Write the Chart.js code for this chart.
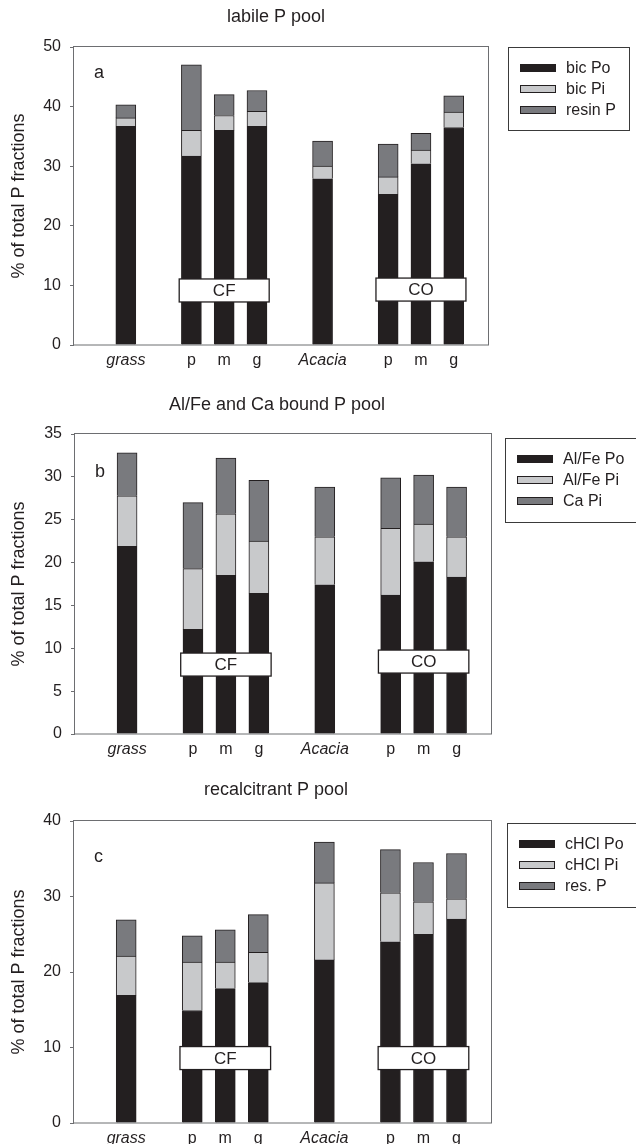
<!DOCTYPE html>
<html>
<head>
<meta charset="utf-8">
<script src="https://cdn.jsdelivr.net/npm/chart.js@4.4.0/dist/chart.umd.min.js"></script>
<style>
  body { margin: 0; background: #fff; }
  canvas { display: block; }
</style>
</head>
<body>
<canvas id="chartA" width="636" height="380"></canvas>
<canvas id="chartB" width="636" height="380"></canvas>
<canvas id="chartC" width="636" height="384"></canvas>
<script>
// bar positions on the x axis (gaps between grass / CF / Acacia / CO)
const xPos = [0, 2, 3, 4, 6, 8, 9, 10];
const xLabels = ['grass', 'p', 'm', 'g', 'Acacia', 'p', 'm', 'g'];

// a) labile P pool
const bicPo = [36.7, 31.7, 36.0, 36.7, 27.9, 25.3, 30.4, 36.5];
const bicPi = [1.4, 4.3, 2.5, 2.5, 2.1, 2.9, 2.3, 2.6];
const resinP = [2.2, 11.0, 3.5, 3.5, 4.2, 5.5, 2.8, 2.7];

// b) Al/Fe and Ca bound P pool
const alfePo = [21.9, 12.2, 18.5, 16.4, 17.4, 16.2, 20.1, 18.3];
const alfePi = [5.9, 7.1, 7.2, 6.1, 5.6, 7.8, 4.4, 4.7];
const caPi = [5.0, 7.7, 6.5, 7.1, 5.8, 5.9, 5.7, 5.8];

// c) recalcitrant P pool
const chclPo = [16.9, 14.9, 17.8, 18.6, 21.6, 24.0, 25.0, 27.0];
const chclPi = [5.2, 6.4, 3.5, 4.0, 10.2, 6.5, 4.3, 2.7];
const resP = [4.8, 3.5, 4.3, 5.0, 5.4, 5.7, 5.2, 6.0];

const colors = ['#231f20', '#c8c9cb', '#797a7e'];
const ink = '#231f20';
const fontFam = "'Liberation Sans', Arial, sans-serif";
Chart.defaults.font.family = fontFam;
Chart.defaults.color = ink;

// title, frame, panel letter, CF/CO boxes and legend box
const decor = {
  id: 'decor',
  afterDatasetsDraw(chart, args, o) {
    const ctx = chart.ctx, xs = chart.scales.x, ys = chart.scales.y;
    ctx.save();
    o.groups.forEach(g => {
      const l = xs.getPixelForValue(g.x - 1.372), r = xs.getPixelForValue(g.x + 1.372);
      const cy = ys.getPixelForValue(g.y);
      ctx.fillStyle = '#fff';
      ctx.fillRect(l, cy - 11.5, r - l, 23);
      ctx.strokeStyle = ink;
      ctx.lineWidth = 1.3;
      ctx.strokeRect(l, cy - 11.5, r - l, 23);
      ctx.fillStyle = ink;
      ctx.font = '17px ' + fontFam;
      ctx.textAlign = 'center';
      ctx.textBaseline = 'middle';
      ctx.fillText(g.text, (l + r) / 2, cy + 1);
    });
    ctx.restore();
  },
  afterDraw(chart, args, o) {
    const ctx = chart.ctx, a = chart.chartArea;
    ctx.save();
    ctx.strokeStyle = '#6d6e71';
    ctx.lineWidth = 1;
    ctx.strokeRect(a.left - 0.5, a.top - 0.5, a.right - a.left, a.bottom - a.top + 0.5);

    ctx.fillStyle = ink;
    ctx.textBaseline = 'alphabetic';
    ctx.textAlign = 'center';
    ctx.font = '18px ' + fontFam;
    ctx.fillText(o.title, a.left + 202, o.titleY);
    ctx.textAlign = 'left';
    ctx.fillText(o.letter, a.left + 20, o.letterY);

    // legend
    const L = o.legend;
    ctx.strokeStyle = '#3a3a3a';
    ctx.strokeRect(L.x + 0.5, L.y + 0.5, L.w, L.h);
    ctx.font = '16px ' + fontFam;
    ctx.textBaseline = 'middle';
    chart.data.datasets.forEach((ds, i) => {
      const cy = L.y + 21 + i * 21;
      ctx.fillStyle = ds.backgroundColor;
      ctx.fillRect(L.x + 12, cy - 4, 36, 8);
      ctx.strokeStyle = ink;
      ctx.strokeRect(L.x + 12.5, cy - 3.5, 35, 7);
      ctx.fillStyle = ink;
      ctx.fillText(ds.label, L.x + 58, cy + 1);
    });
    ctx.restore();
  }
};

function makePanel(id, cfg) {
  return new Chart(document.getElementById(id), {
    type: 'bar',
    data: {
      datasets: cfg.series.map((s, i) => ({
        label: s.label,
        data: s.values.map((v, j) => ({ x: xPos[j], y: v })),
        backgroundColor: colors[i],
        borderColor: ink,
        borderWidth: 1,
        barThickness: 20,
        stack: 'p'
      }))
    },
    options: {
      responsive: false,
      animation: false,
      layout: { padding: { top: cfg.area.top, right: 636 - cfg.area.right, left: 0, bottom: 0 } },
      plugins: {
        legend: { display: false },
        tooltip: { enabled: false },
        decor: cfg.decor
      },
      scales: {
        x: {
          type: 'linear',
          stacked: true,
          offset: false,
          min: -1.58,
          max: 11.075,
          grid: { display: false, drawTicks: false, offset: false },
          border: { display: false },
          afterBuildTicks: s => { s.ticks = xPos.map(v => ({ value: v })); },
          afterFit: s => { s.height = cfg.h - cfg.area.bottom; },
          ticks: {
            autoSkip: false,
            maxRotation: 0,
            padding: 6,
            color: ink,
            callback: (v, i) => xLabels[i],
            font: c => ({ size: 16, style: (xLabels[c.index] === 'grass' || xLabels[c.index] === 'Acacia') ? 'italic' : 'normal' })
          }
        },
        y: {
          stacked: true,
          min: 0,
          max: cfg.yMax,
          afterFit: s => { s.width = cfg.area.left; },
          border: { display: false },
          grid: { drawOnChartArea: false, tickLength: 4, color: '#6d6e71' },
          ticks: { stepSize: cfg.yStep, padding: 9, color: ink, font: { size: 16 } },
          title: { display: true, text: '% of total P fractions', color: ink, font: { size: 18 }, padding: { top: 8, bottom: 0 } }
        }
      }
    },
    plugins: [decor]
  });
}

makePanel('chartA', {
  h: 380,
  area: { left: 74, right: 489, top: 47, bottom: 345 },
  yMax: 50, yStep: 10,
  series: [
    { label: 'bic Po', values: bicPo },
    { label: 'bic Pi', values: bicPi },
    { label: 'resin P', values: resinP }
  ],
  decor: {
    title: 'labile P pool', titleY: 22,
    letter: 'a', letterY: 78,
    groups: [{ text: 'CF', x: 3, y: 9.15 }, { text: 'CO', x: 9, y: 9.3 }],
    legend: { x: 508, y: 47, w: 121, h: 83 }
  }
});

makePanel('chartB', {
  h: 380,
  area: { left: 75, right: 492, top: 54, bottom: 354 },
  yMax: 35, yStep: 5,
  series: [
    { label: 'Al/Fe Po', values: alfePo },
    { label: 'Al/Fe Pi', values: alfePi },
    { label: 'Ca Pi', values: caPi }
  ],
  decor: {
    title: 'Al/Fe and Ca bound P pool', titleY: 30,
    letter: 'b', letterY: 97,
    groups: [{ text: 'CF', x: 3, y: 8.1 }, { text: 'CO', x: 9, y: 8.45 }],
    legend: { x: 505, y: 58, w: 140, h: 84 }
  }
});

makePanel('chartC', {
  h: 384,
  area: { left: 74, right: 492, top: 61, bottom: 363 },
  yMax: 40, yStep: 10,
  series: [
    { label: 'cHCl Po', values: chclPo },
    { label: 'cHCl Pi', values: chclPi },
    { label: 'res. P', values: resP }
  ],
  decor: {
    title: 'recalcitrant P pool', titleY: 35,
    letter: 'c', letterY: 102,
    groups: [{ text: 'CF', x: 3, y: 8.6 }, { text: 'CO', x: 9, y: 8.6 }],
    legend: { x: 507, y: 63, w: 135, h: 84 }
  }
});
</script>
</body>
</html>
